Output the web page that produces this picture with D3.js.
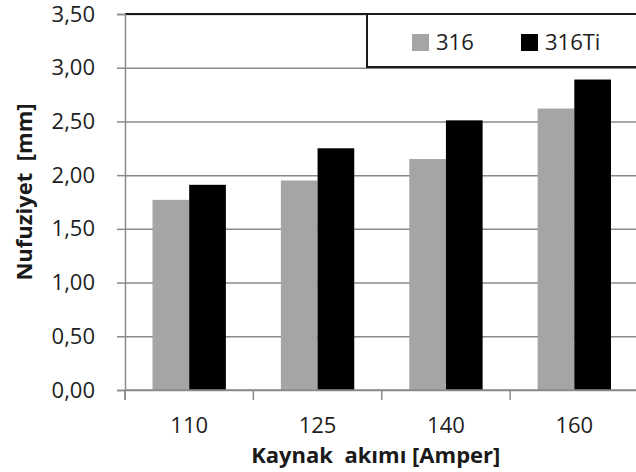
<!DOCTYPE html>
<html>
<head>
<meta charset="utf-8">
<script src="https://cdn.jsdelivr.net/npm/d3@7"></script>
<style>
  body { margin: 0; background: #fff; }
  svg { display: block; font-family: "Open Sans", "Noto Sans", sans-serif; }
</style>
</head>
<body>
<div id="chart"></div>
<script>
// veriler
const categories = ["110", "125", "140", "160"];
const seriesNames = ["316", "316Ti"];
const values316 = [1.77, 1.95, 2.15, 2.62];
const values316Ti = [1.91, 2.25, 2.51, 2.89];
const yTicks = [0, 0.5, 1, 1.5, 2, 2.5, 3, 3.5];
const colors = ["#a5a5a5", "#000000"];

const W = 636, H = 472;
const plot = { left: 125, right: 638.5, top: 14, bottom: 390 };

const svg = d3.select("#chart").append("svg")
  .attr("width", W).attr("height", H);

const x = d3.scaleBand()
  .domain(categories)
  .range([plot.left, plot.right])
  .padding(0);

const xSub = d3.scaleBand()
  .domain(seriesNames)
  .range([0, x.bandwidth()])
  .paddingInner(0)
  .paddingOuter(0.75);

const y = d3.scaleLinear().domain([0, 3.5]).range([plot.bottom, plot.top]);

const fmt = d3.formatLocale({ decimal: ",", thousands: ".", grouping: [3], currency: ["", ""] }).format(".2f");

// grid
svg.append("g")
  .attr("class", "grid")
  .attr("transform", `translate(${plot.left},0)`)
  .call(d3.axisLeft(y).tickValues(yTicks).tickSize(-(plot.right - plot.left)).tickFormat(""))
  .call(g => g.select(".domain").remove())
  .call(g => g.selectAll("line").attr("stroke", "#8a8a8a").attr("stroke-width", 1.5));

// bars
const rows = categories.map((c, i) => ({ cat: c, vals: [values316[i], values316Ti[i]] }));

const groups = svg.selectAll(".grp").data(rows).enter().append("g")
  .attr("class", "grp")
  .attr("transform", d => `translate(${x(d.cat)},0)`);

groups.selectAll("rect")
  .data(d => d.vals.map((v, k) => ({ name: seriesNames[k], v: v, k: k })))
  .enter().append("rect")
  .attr("x", d => xSub(d.name))
  .attr("y", d => y(d.v))
  .attr("width", xSub.bandwidth())
  .attr("height", d => y(0) - y(d.v))
  .attr("fill", d => colors[d.k]);

// top border
svg.append("line")
  .attr("x1", plot.left).attr("x2", W)
  .attr("y1", plot.top).attr("y2", plot.top)
  .attr("stroke", "#1a1a1a").attr("stroke-width", 2);

// y axis
svg.append("g")
  .attr("transform", `translate(${plot.left},0)`)
  .call(d3.axisLeft(y).tickValues(yTicks).tickSize(8).tickPadding(22).tickFormat(fmt))
  .call(g => g.select(".domain").attr("stroke", "#8a8a8a").attr("stroke-width", 1.5))
  .call(g => g.selectAll(".tick line").attr("stroke", "#8a8a8a").attr("stroke-width", 1.5))
  .call(g => g.selectAll("text").attr("font-size", 22).attr("fill", "#1e1e1e")
    .attr("font-family", "'Open Sans', 'Noto Sans', sans-serif"));

// x axis
svg.append("g")
  .attr("transform", `translate(0,${plot.bottom})`)
  .call(d3.axisBottom(x).tickSize(0).tickPadding(27))
  .call(g => g.select(".domain").remove())
  .call(g => g.selectAll("text").attr("font-size", 22).attr("fill", "#1e1e1e")
    .attr("font-family", "'Open Sans', 'Noto Sans', sans-serif"));

svg.append("line")
  .attr("x1", plot.left).attr("x2", W)
  .attr("y1", plot.bottom).attr("y2", plot.bottom)
  .attr("stroke", "#8a8a8a").attr("stroke-width", 1.5);

svg.selectAll(".xtick").data(categories.concat(["end"])).enter().append("line")
  .attr("class", "xtick")
  .attr("x1", d => d === "end" ? plot.right : x(d))
  .attr("x2", d => d === "end" ? plot.right : x(d))
  .attr("y1", plot.bottom).attr("y2", plot.bottom + 10)
  .attr("stroke", "#8a8a8a").attr("stroke-width", 1.5);
svg.append("line")
  .attr("x1", plot.left).attr("x2", plot.left)
  .attr("y1", plot.bottom).attr("y2", plot.bottom + 10)
  .attr("stroke", "#8a8a8a").attr("stroke-width", 1.5);

// axis titles
svg.append("text")
  .attr("x", (plot.left + plot.right) / 2 - 6)
  .attr("y", 463)
  .attr("text-anchor", "middle")
  .attr("font-size", 22)
  .attr("font-weight", "bold")
  .attr("fill", "#1a1a1a")
  .text("Kaynak\u00a0 akımı [Amper]");

svg.append("text")
  .attr("transform", "translate(32,192) rotate(-90)")
  .attr("text-anchor", "middle")
  .attr("font-size", 22)
  .attr("font-weight", "bold")
  .attr("fill", "#1a1a1a")
  .text("Nufuziyet\u00a0 [mm]");

// legend
const legend = svg.append("g");
legend.append("rect")
  .attr("x", 367).attr("y", plot.top)
  .attr("width", 300).attr("height", 53)
  .attr("fill", "#fff")
  .attr("stroke", "#1a1a1a").attr("stroke-width", 2);

const legX = [412, 521];
const items = legend.selectAll(".item").data(seriesNames).enter().append("g")
  .attr("class", "item")
  .attr("transform", (d, i) => `translate(${legX[i]},34)`);
items.append("rect")
  .attr("width", 17).attr("height", 17)
  .attr("fill", (d, i) => colors[i]);
items.append("text")
  .attr("x", 24).attr("y", 16)
  .attr("font-size", 22)
  .attr("fill", "#1e1e1e")
  .text(d => d);
</script>
</body>
</html>
